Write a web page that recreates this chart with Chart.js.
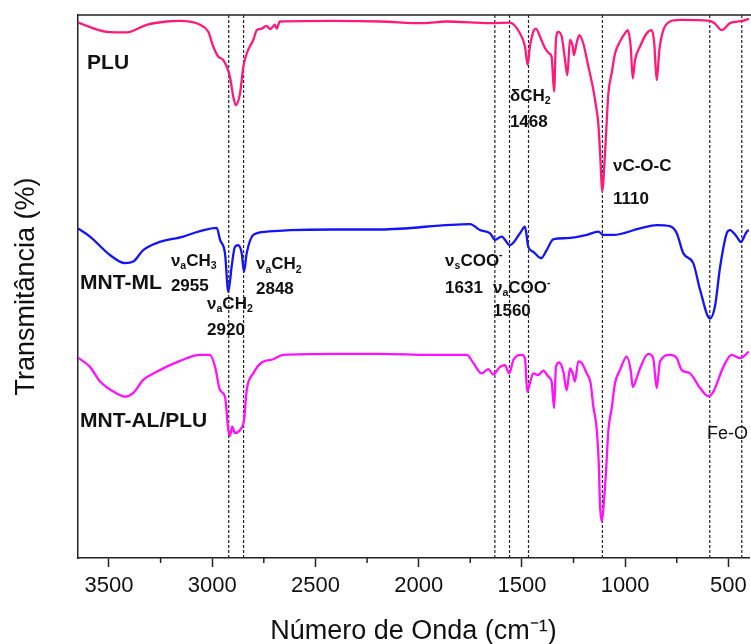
<!DOCTYPE html>
<html>
<head>
<meta charset="utf-8">
<script src="https://cdn.jsdelivr.net/npm/chart.js@4"></script>
<style>
  body { margin: 0; background: #fff; }
</style>
</head>
<body>
<canvas id="ftir" width="751" height="644"></canvas>
<script>
// wavenumbers (cm-1) and transmittance (a.u.)
const pluWn = [3650,3511,3414,3317,3220,3156,3059,3019,2995,2970,2946,2914,2898,2886,2865,2849,2833,2801,2784,2760,2736,2720,2696,2688,2672,2413,2187,1978,1864,1654,1558,1509,1485,1472,1461,1445,1432,1412,1388,1367,1356,1344,1335,1324,1307,1291,1280,1267,1254,1248,1235,1222,1203,1178,1154,1138,1130,1122,1110,1101,1093,1081,1065,1049,1025,1001,988,973,963,952,928,896,871,859,847,834,815,783,734,589,565,532,492,434,400];
const pluT = [98.6,96.9,96.8,98.2,98.8,98.9,98.2,96.9,94.2,92.3,91.7,88.6,85.0,83.4,85.6,90.5,92.9,95.4,97.2,97.5,98.0,97.4,98.2,97.5,98.8,98.9,98.8,98.5,98.8,98.5,98.6,96.6,94.2,90.8,94.2,96.9,97.5,96.0,93.9,92.9,92.3,85.9,95.4,96.9,96.0,91.7,88.9,95.4,94.2,92.6,94.8,96.3,94.8,90.5,86.2,82.5,80.1,75.1,67.5,72.1,77.6,85.6,89.3,92.9,95.1,96.6,97.2,94.2,88.3,91.7,94.2,96.6,97.2,94.8,88.0,93.6,97.2,98.8,99.1,98.9,98.4,97.2,98.5,98.9,99.3];

const mlWn = [3650,3592,3495,3422,3382,3334,3269,3140,3059,2978,2962,2938,2922,2906,2890,2874,2857,2846,2833,2801,2736,2623,2413,2187,1751,1703,1654,1630,1598,1558,1509,1485,1469,1445,1407,1380,1348,1283,1186,1130,1106,1057,928,847,783,750,718,670,637,589,565,540,508,492,460,440,411,400];
const mlT = [60.7,59.2,55.8,54.3,54.6,56.7,58.0,59.2,60.2,60.8,58.6,56.1,49.0,53.6,57.3,57.6,56.1,52.7,56.1,59.5,60.1,60.4,60.5,60.5,61.5,60.4,59.8,58.6,59.2,57.6,59.8,61.0,57.3,56.4,55.2,56.7,58.7,58.9,59.5,60.1,59.5,59.5,60.7,61.3,61.1,59.8,56.1,54.3,49.4,44.1,46.3,53.6,59.8,60.4,59.2,58.2,60.1,60.4];

const alWn = [3650,3592,3543,3463,3422,3382,3334,3269,3156,3059,3011,2986,2962,2938,2922,2914,2903,2890,2865,2846,2833,2801,2760,2704,2656,2413,2187,1945,1767,1735,1695,1663,1639,1606,1582,1561,1541,1501,1485,1474,1461,1445,1421,1396,1372,1356,1344,1335,1319,1299,1283,1267,1254,1243,1227,1210,1186,1167,1154,1138,1127,1122,1113,1102,1093,1081,1065,1049,1025,992,973,963,947,928,888,864,847,831,783,750,726,686,637,597,573,524,484,444,400];
const alT = [36.9,35.2,32.5,30.3,29.7,30.4,32.8,34.3,36.3,37.4,37.4,35.2,30.9,29.7,23.6,22.5,24.2,23.0,23.6,25.4,30.9,34.0,36.0,36.6,37.4,37.6,37.6,37.4,37.4,35.9,34.0,34.8,33.8,35.2,35.5,34.0,36.5,37.4,36.8,30.6,32.2,34.0,33.7,34.5,33.4,32.5,27.6,35.2,36.0,34.3,30.9,34.9,34.0,32.5,36.2,35.9,34.0,32.2,27.9,23.9,16.8,10.1,6.7,10.7,15.6,23.6,27.6,32.2,34.6,37.1,34.6,31.5,32.8,34.9,37.6,36.8,31.3,36.2,37.4,36.8,34.6,34.0,31.3,29.8,30.6,35.2,37.4,36.8,38.0];

// band positions marked with dotted lines
const bandWn = [2920, 2848, 1631, 1560, 1468, 1110, 590, 435];

const tickValues = [500,750,1000,1250,1500,1750,2000,2250,2500,2750,3000,3250,3500];
const majorTicks = [500,1000,1500,2000,2500,3000,3500];

// labels: text (_{} subscript, ^{} superscript), anchor in data units
const sampleLabels = [
  { text: 'PLU', wn: 3606, t: 91.2 },
  { text: 'MNT-ML', wn: 3640, t: 50.6 },
  { text: 'MNT-AL/PLU', wn: 3640, t: 25.2 }
];
const bandLabels = [
  { text: 'ν_{a}CH_{3}', wn: 3200, t: 54.7 },
  { text: '2955', wn: 3200, t: 50.1 },
  { text: 'ν_{a}CH_{2}', wn: 3025, t: 46.8 },
  { text: '2920', wn: 3025, t: 42.0 },
  { text: 'ν_{a}CH_{2}', wn: 2788, t: 54.1 },
  { text: '2848', wn: 2788, t: 49.4 },
  { text: 'ν_{s}COO^{-}', wn: 1872, t: 54.7 },
  { text: '1631', wn: 1872, t: 49.7 },
  { text: 'ν_{a}COO^{-}', wn: 1640, t: 49.7 },
  { text: '1560', wn: 1640, t: 45.5 },
  { text: 'δCH_{2}', wn: 1558, t: 85.1 },
  { text: '1468', wn: 1558, t: 80.3 },
  { text: 'νC-O-C', wn: 1059, t: 72.2 },
  { text: '1110', wn: 1059, t: 66.1 },
  { text: 'Fe-O', wn: 603, t: 22.8, plain: true }
];

const FAMILY = '"Liberation Sans", Arial, sans-serif';
Chart.defaults.font.family = FAMILY;

function toPoints(xs, ys) {
  return xs.map((x, i) => ({ x: x, y: ys[i] }));
}

function drawRich(ctx, x, y, text, size, weight) {
  const parts = text.match(/_\{[^}]*\}|\^\{[^}]*\}|[^_^]+/g);
  let cx = x;
  parts.forEach(p => {
    let s = size, dy = 0, t = p;
    if (p[0] === '_') { t = p.slice(2, -1); s = size * 0.62; dy = size * 0.32; }
    else if (p[0] === '^') { t = p.slice(2, -1); s = size * 0.62; dy = -size * 0.32; }
    ctx.font = weight + ' ' + s + 'px ' + FAMILY;
    ctx.fillText(t, cx, y + dy);
    cx += ctx.measureText(t).width;
  });
}

const decor = {
  id: 'decor',
  afterDatasetsDraw(chart) {
    const { ctx, chartArea } = chart;
    const xs = chart.scales.x, ys = chart.scales.y;
    ctx.save();
    // top frame line
    ctx.strokeStyle = '#222';
    ctx.lineWidth = 1.5;
    ctx.beginPath();
    ctx.moveTo(chartArea.left, chartArea.top);
    ctx.lineTo(chart.width, chartArea.top);
    ctx.stroke();
    // minor ticks
    tickValues.filter(v => !majorTicks.includes(v)).forEach(v => {
      const px = xs.getPixelForValue(v);
      ctx.beginPath();
      ctx.moveTo(px, chartArea.bottom);
      ctx.lineTo(px, chartArea.bottom + 5);
      ctx.stroke();
    });
    // text
    ctx.fillStyle = '#111';
    ctx.textAlign = 'left';
    ctx.textBaseline = 'middle';
    sampleLabels.forEach(l => {
      drawRich(ctx, xs.getPixelForValue(l.wn), ys.getPixelForValue(l.t), l.text, 21, 'bold');
    });
    bandLabels.forEach(l => {
      drawRich(ctx, xs.getPixelForValue(l.wn), ys.getPixelForValue(l.t), l.text, l.plain ? 18 : 17, l.plain ? 'normal' : 'bold');
    });
    ctx.restore();
  }
};

const curveStyle = { pointRadius: 0, borderWidth: 2.3, cubicInterpolationMode: 'monotone', fill: false };

const datasets = [
  Object.assign({ label: 'PLU', data: toPoints(pluWn, pluT), borderColor: '#ff1a7a' }, curveStyle),
  Object.assign({ label: 'MNT-ML', data: toPoints(mlWn, mlT), borderColor: '#1414f5' }, curveStyle),
  Object.assign({ label: 'MNT-AL/PLU', data: toPoints(alWn, alT), borderColor: '#ff10ff' }, curveStyle)
];
bandWn.forEach(w => {
  datasets.push({
    label: 'band ' + w,
    data: [{ x: w, y: 0 }, { x: w, y: 100 }],
    borderColor: '#222',
    borderWidth: 1.2,
    borderDash: [3, 2],
    pointRadius: 0
  });
});

new Chart(document.getElementById('ftir').getContext('2d'), {
  type: 'line',
  data: { datasets: datasets },
  options: {
    responsive: false,
    animation: false,
    devicePixelRatio: 1,
    layout: { padding: { top: 15, right: 2, left: 0, bottom: 0 } },
    plugins: { legend: { display: false }, tooltip: { enabled: false } },
    scales: {
      x: {
        type: 'linear',
        reverse: true,
        min: 400,
        max: 3650,
        afterBuildTicks: s => { s.ticks = tickValues.map(v => ({ value: v })); },
        afterFit: s => { s.height = 86; },
        ticks: {
          autoSkip: false,
          maxRotation: 0,
          padding: 6,
          color: '#111',
          font: { size: 22 },
          callback: v => majorTicks.includes(v) ? String(v) : ''
        },
        grid: {
          drawOnChartArea: false,
          drawTicks: true,
          tickLength: 9,
          tickWidth: 1.5,
          tickColor: c => (c.tick && majorTicks.includes(c.tick.value)) ? '#222' : 'rgba(0,0,0,0)'
        },
        border: { display: true, color: '#222', width: 1.5 },
        title: {
          display: true,
          text: 'Número de Onda (cm⁻¹)',
          color: '#111',
          font: { size: 27 },
          padding: { top: 0, bottom: -4 }
        }
      },
      y: {
        min: 0,
        max: 100,
        afterFit: s => { s.width = 78; },
        ticks: { display: false },
        grid: { drawOnChartArea: false, drawTicks: false },
        border: { display: true, color: '#222', width: 1.5 },
        title: {
          display: true,
          text: 'Transmitância (%)',
          color: '#111',
          font: { size: 27 },
          padding: { top: 10, bottom: 0 }
        }
      }
    }
  },
  plugins: [decor]
});
</script>
</body>
</html>
